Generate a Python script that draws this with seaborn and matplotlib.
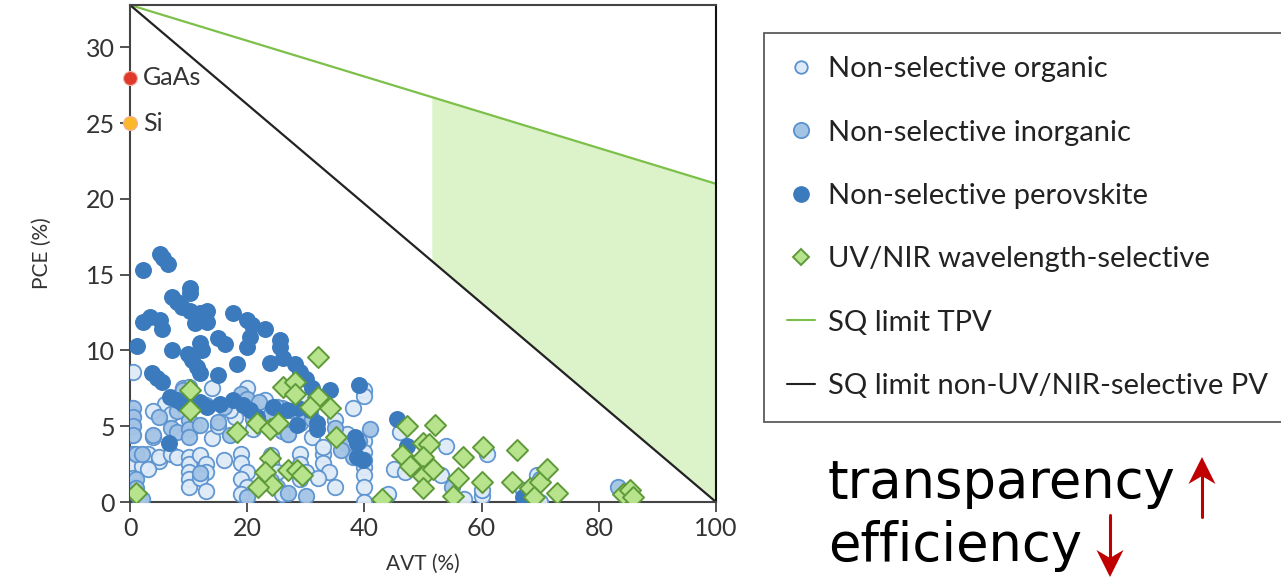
import numpy as np
import pandas as pd
import seaborn as sns
import matplotlib
matplotlib.use("Agg")
import matplotlib.pyplot as plt
from matplotlib.lines import Line2D
from matplotlib.patches import Polygon

# ---------------- data ----------------
org_x = [0.5, 0.3, 0.3, 0.5, 0.0, 0.5, 0.5, 1.0, 1.5, 2.0, 0.3,
         3, 4, 5, 3, 5, 6, 7, 8, 7, 8, 9, 4,
         10, 10, 10, 10, 10, 10, 11, 10,
         12, 13, 13, 12, 13, 14, 14, 15, 16,
         19, 19, 20, 19, 20, 19, 21, 20, 18, 21, 17,
         24, 24, 25, 24, 25, 26, 23, 26, 27, 23,
         29, 29, 30, 29, 30, 29, 31,
         33, 33, 34, 32, 35, 33, 35,
         38, 40, 40, 40, 40, 40, 40, 40, 40, 40, 37,
         44, 45, 47, 46,
         53, 54, 61, 60, 60, 70, 69.5, 67, 57]
org_y = [8.6, 5.8, 4.4, 3.2, 2.3, 1.6, 1.0, 0.6, 0.3, 2.4, 5.2,
         3.2, 4.3, 2.7, 2.2, 3.0, 6.5, 5.8, 6.9, 3.2, 3.0, 7.5, 6.0,
         3.0, 2.5, 2.0, 1.5, 1.0, 7.6, 5.0, 6.3,
         3.1, 2.5, 2.0, 1.6, 0.7, 7.5, 4.2, 5.0, 2.8,
         3.2, 2.6, 2.0, 1.5, 1.0, 0.5, 6.5, 7.5, 5.6, 4.8, 6.1,
         3.1, 2.6, 2.0, 1.4, 1.0, 0.5, 6.7, 6.2, 4.5, 5.5,
         3.2, 2.5, 2.0, 1.5, 6.7, 5.2, 4.3,
         3.2, 2.6, 2.0, 1.6, 5.4, 3.6, 1.0,
         6.2, 7.4, 7.0, 4.0, 3.3, 2.8, 2.3, 1.8, 1.0, 0.0, 4.5,
         0.5, 2.2, 2.0, 4.6,
         1.8, 3.7, 3.2, 0.4, 0.8, 0.0, 1.8, 0.8, 0.2]

inorg_x = [0.5, 0.5, 0.5, 0.5, 1, 2, 1, 1, 1, 2,
           5, 7, 8, 4, 10, 10, 10, 12, 9, 12, 13, 8,
           15, 16, 17, 19, 20, 21, 22, 23, 20,
           24, 25, 26, 28, 27, 29, 30, 31, 27,
           35, 37, 39, 41, 38, 36,
           83.3, 70, 55]
inorg_y = [6.2, 5.6, 5.0, 4.4, 3.2, 3.2, 1.5, 0.9, 0.6, 0.2,
           5.6, 4.9, 4.6, 4.4, 5.4, 4.8, 4.3, 5.1, 7.4, 1.9, 6.4, 6.0,
           5.3, 6.3, 4.4, 7.1, 6.8, 5.5, 6.6, 1.3, 0.3,
           5.8, 6.3, 4.7, 6.0, 4.5, 5.9, 0.4, 5.5, 0.6,
           4.9, 3.8, 4.0, 4.8, 3.0, 3.4,
           1.0, 1.5, 1.0]

perov_x = [2.2, 5.1, 5.6, 6.5, 1.2, 2.2, 3.4, 5.1, 5.5, 7.2, 8.0, 8.9,
           10.2, 10.2, 10.2, 11.1, 11.9, 13.1, 13.1, 11.1, 7.2,
           9.9, 10.6, 11.4, 11.9, 3.8, 4.6, 5.5, 11.9, 12.3,
           15.0, 16.2, 15.0, 17.6, 18.3, 20.0, 20.8, 20.5, 20.0, 23.0,
           25.6, 25.6, 23.9, 26.1, 28.2, 29.0,
           6.8, 8.0, 9.0, 11.9, 13.1, 15.4, 17.6, 19.3, 20.5, 21.7,
           24.4, 26.8, 28.7, 30.7, 31.9, 31.9, 34.1, 6.7, 28.5,
           38.7, 38.7, 38.4, 39.8, 39.1, 45.6, 47.3, 67.0, 30.0, 31.0]
perov_y = [15.3, 16.4, 16.1, 15.7, 10.3, 11.9, 12.2, 12.0, 11.4, 13.5, 13.2, 12.9,
           14.1, 13.8, 12.6, 12.4, 12.5, 12.6, 11.9, 11.8, 10.0,
           9.8, 9.4, 8.9, 8.5, 8.5, 8.2, 7.9, 10.5, 10.0,
           10.8, 10.4, 8.4, 12.5, 9.1, 12.0, 11.7, 10.9, 10.2, 11.4,
           10.7, 10.2, 9.2, 9.5, 9.1, 8.6,
           6.9, 6.7, 6.5, 6.6, 6.3, 6.5, 6.7, 6.4, 6.1, 5.6,
           6.3, 6.1, 6.2, 6.1, 5.2, 4.8, 7.4, 3.9, 5.1,
           3.9, 3.0, 4.3, 2.8, 7.7, 5.5, 3.7, 0.3, 8.1, 7.5]

sel_x = [1.0, 10.2, 10.2, 18.3, 21.7, 23.9, 25.3, 23.9, 23.0, 24.2, 21.8, 27.0,
         28.5, 29.4, 26.1, 28.2, 28.2, 32.1, 32.1, 30.7, 34.1, 35.2,
         47.3, 52.0, 50.0, 51.0, 46.4, 47.8, 50.0, 50.0, 51.7, 50.0,
         56.8, 56.0, 55.1, 60.2, 60.0, 66.0, 65.2, 68.3, 70.0, 69.0,
         71.2, 72.9, 43.0, 84.1, 85.3, 85.8]
sel_y = [0.6, 7.4, 6.1, 4.6, 5.2, 4.8, 5.2, 2.9, 2.0, 1.1, 1.0, 2.1,
         2.1, 1.8, 7.6, 7.9, 7.1, 9.6, 6.9, 6.3, 6.2, 4.3,
         5.0, 5.1, 3.9, 3.8, 3.1, 2.4, 3.0, 1.7, 2.2, 0.9,
         3.0, 1.6, 0.4, 3.6, 1.3, 3.4, 1.3, 0.9, 1.3, 0.3,
         2.2, 0.6, 0.2, 0.5, 0.8, 0.3]

sq_x = [0, 100]
sq_tpv = [32.8, 21.0]
sq_pv = [32.8, 0.0]
shade_start = 51.5

ref_labels = ["GaAs", "Si"]
ref_y = [28.0, 25.0]
ref_colors = ["#e0392b", "#fbb829"]

# ---------------- style ----------------
sns.set_theme(style="white")
plt.rcParams["font.family"] = ["Lato", "DejaVu Sans"]

W, H = 1281, 582
fig = plt.figure(figsize=(W / 100, H / 100), dpi=100)
ax = fig.add_axes([130 / W, 80 / H, 586 / W, 497 / H])

edge_blue = "#5a92cf"
c_org = "#deeaf7"
c_inorg = "#a4c4e6"
c_perov = "#3a7abd"
c_sel_face = "#b6e38c"
c_sel_edge = "#5f9a3a"
c_tpv = "#7cc04a"
c_fill = "#dcf3c9"

# shaded region
xs = np.array([shade_start, 100.0])
tpv_line = np.interp(xs, sq_x, sq_tpv)
pv_line = np.interp(xs, sq_x, sq_pv)
ax.fill_between(xs, pv_line, tpv_line, color=c_fill, lw=0, zorder=1)

df_org = pd.DataFrame({"AVT": org_x, "PCE": org_y})
df_inorg = pd.DataFrame({"AVT": inorg_x, "PCE": inorg_y})
df_perov = pd.DataFrame({"AVT": perov_x, "PCE": perov_y})
df_sel = pd.DataFrame({"AVT": sel_x, "PCE": sel_y})

sz = 125
sns.scatterplot(data=df_org, x="AVT", y="PCE", ax=ax, s=sz, color=c_org,
                edgecolor=edge_blue, linewidth=1.3, alpha=0.95, zorder=3, legend=False)
sns.scatterplot(data=df_inorg, x="AVT", y="PCE", ax=ax, s=sz, color=c_inorg,
                edgecolor=edge_blue, linewidth=1.3, alpha=0.95, zorder=3, legend=False)
sns.scatterplot(data=df_perov, x="AVT", y="PCE", ax=ax, s=sz, color=c_perov,
                edgecolor=c_perov, linewidth=1.0, zorder=4, legend=False)
sns.scatterplot(data=df_sel, x="AVT", y="PCE", ax=ax, s=115, marker="D", color=c_sel_face,
                edgecolor=c_sel_edge, linewidth=1.4, zorder=5, legend=False)

ax.plot(sq_x, sq_tpv, color=c_tpv, lw=1.6, zorder=2)
ax.plot(sq_x, sq_pv, color="#222222", lw=1.6, zorder=2)

for lab, yv, col in zip(ref_labels, ref_y, ref_colors):
    ax.scatter([0], [yv], s=100, color=col, edgecolor="#f0b0a0", linewidth=0.8,
               zorder=6, clip_on=False)
    ax.text(2.2, yv, lab, fontsize=18, color="#333333", va="center", ha="left")

ax.set_xlim(0, 100)
ax.set_ylim(0, 32.8)
ax.set_xticks([0, 20, 40, 60, 80, 100])
ax.set_yticks([0, 5, 10, 15, 20, 25, 30])
ax.tick_params(axis="both", direction="out", length=7, width=1.3, color="#444444",
               labelsize=18, labelcolor="#333333", bottom=True, left=True, pad=4)
for sp in ax.spines.values():
    sp.set_color("#444444")
    sp.set_linewidth(1.5)
ax.spines["right"].set_color("#111111")
ax.set_xlabel("AVT (%)", fontsize=15, color="#333333", labelpad=10)
ax.set_ylabel("PCE (%)", fontsize=15, color="#333333", labelpad=24)

# legend
handles = [
    Line2D([], [], ls="none", marker="o", markersize=9, markerfacecolor=c_org,
           markeredgecolor=edge_blue, markeredgewidth=1.3),
    Line2D([], [], ls="none", marker="o", markersize=11, markerfacecolor=c_inorg,
           markeredgecolor=edge_blue, markeredgewidth=1.3),
    Line2D([], [], ls="none", marker="o", markersize=11, markerfacecolor=c_perov,
           markeredgecolor=c_perov),
    Line2D([], [], ls="none", marker="D", markersize=8, markerfacecolor=c_sel_face,
           markeredgecolor=c_sel_edge, markeredgewidth=1.4),
    Line2D([], [], color=c_tpv, lw=1.5),
    Line2D([], [], color="#222222", lw=1.5),
]
labels = ["Non-selective organic", "Non-selective inorganic", "Non-selective perovskite",
          "UV/NIR wavelength-selective", "SQ limit TPV", "SQ limit non-UV/NIR-selective PV"]
leg = fig.legend(handles, labels, loc="upper left",
                 bbox_to_anchor=(764 / W, 1 - 33 / H), bbox_transform=fig.transFigure,
                 fontsize=21, frameon=True, fancybox=False, edgecolor="#333333",
                 labelspacing=1.28, handlelength=0.95, handletextpad=0.45,
                 borderpad=0.8, borderaxespad=0)
leg.get_frame().set_linewidth(1.3)
for t in leg.get_texts():
    t.set_color("#222222")

# bottom annotation
fig.text(828 / W, 1 - 483 / H, "transparency", fontsize=38, color="black",
         family="DejaVu Sans", va="center", ha="left")
fig.text(828 / W, 1 - 546 / H, "efficiency", fontsize=38, color="black",
         family="DejaVu Sans", va="center", ha="left")


def px(x, y):
    return (x / W, 1 - y / H)


arrow_red = "#c00000"
# up arrow
fig.add_artist(Line2D([1202 / W, 1202 / W], [1 - 517 / H, 1 - 474 / H],
                      transform=fig.transFigure, color=arrow_red, lw=2.2))
fig.add_artist(Polygon([px(1202, 457), px(1188.5, 484), px(1202, 476), px(1215.5, 484)],
                       closed=True, transform=fig.transFigure, color=arrow_red, lw=0))
# down arrow
fig.add_artist(Line2D([1110 / W, 1110 / W], [1 - 515 / H, 1 - 559 / H],
                      transform=fig.transFigure, color=arrow_red, lw=2.2))
fig.add_artist(Polygon([px(1110, 577), px(1096.5, 550), px(1110, 558), px(1123.5, 550)],
                       closed=True, transform=fig.transFigure, color=arrow_red, lw=0))

fig.savefig("out.png", dpi=100)
